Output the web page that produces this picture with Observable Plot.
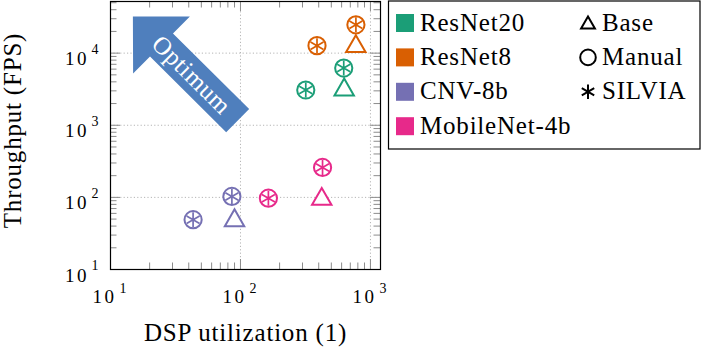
<!DOCTYPE html>
<html>
<head>
<meta charset="utf-8">
<script src="https://cdn.jsdelivr.net/npm/d3@7"></script>
<script src="https://cdn.jsdelivr.net/npm/@observablehq/plot@0.6"></script>
<style>
  html, body { margin: 0; padding: 0; background: #fff; }
  #wrap { position: relative; width: 703px; height: 347px; overflow: hidden; }
  #wrap svg { position: absolute; left: 0; top: 0; }
</style>
</head>
<body>
<div id="wrap"></div>
<script>
// ---------- data ----------
const nets = ["ResNet20", "ResNet8", "CNV-8b", "MobileNet-4b"];
const netColors = ["#1b9e77", "#d95f02", "#7570b3", "#e7298a"];
const methods = ["Base", "Manual", "SILVIA"];

const baseNet = ["ResNet20", "ResNet8", "CNV-8b", "MobileNet-4b"];
const baseDSP = [628, 772, 90, 422];
const baseFPS = [3100, 12370, 47.7, 94.5];

const manualNet = ["ResNet20", "ResNet20", "ResNet8", "ResNet8", "CNV-8b", "CNV-8b", "MobileNet-4b", "MobileNet-4b"];
const manualDSP = [318, 623, 388, 773, 43.2, 85.9, 164, 428];
const manualFPS = [3080, 6210, 12700, 24700, 49, 103, 97.5, 260];

const silviaNet = ["ResNet20", "ResNet20", "ResNet8", "ResNet8", "CNV-8b", "CNV-8b", "MobileNet-4b", "MobileNet-4b"];
const silviaDSP = [318, 623, 388, 773, 43.2, 85.9, 164, 428];
const silviaFPS = [3080, 6210, 12700, 24700, 49, 103, 97.5, 260];

const xMajor = [10, 100, 1000];
const xTickExp = ["1", "2", "3"];
const yMajor = [10, 100, 1000, 10000];
const yTickExp = ["1", "2", "3", "4"];
const xMinor = [20, 30, 40, 50, 60, 70, 80, 90, 200, 300, 400, 500, 600, 700, 800, 900];
const yMinor = [20, 30, 40, 50, 60, 70, 80, 90, 200, 300, 400, 500, 600, 700, 800, 900,
                2000, 3000, 4000, 5000, 6000, 7000, 8000, 9000, 20000, 30000, 40000, 50000];

const xLabel = "DSP utilization (1)";
const yLabel = "Throughput (FPS)";
const arrowText = "Optimum";
const arrowTail = [96, 1143];   // data coords (DSP, FPS)
const arrowTip = [15.0, 31600];

// ---------- build tables ----------
const mk = (n, x, y) => n.map((d, i) => ({net: d, dsp: x[i], fps: y[i]}));
const base = mk(baseNet, baseDSP, baseFPS);
const manual = mk(manualNet, manualDSP, manualFPS);
const silvia = mk(silviaNet, silviaDSP, silviaFPS);

const W = 703, H = 347;
const mL = 110, mR = 323, mT = 1, mB = 78;
const pw = W - mL - mR, ph = H - mT - mB;
const FONT = "'Liberation Serif', 'Times New Roman', serif";

function optimumArrow(index, scales) {
  const tx = scales.x(arrowTail[0]), ty = scales.y(arrowTail[1]);
  const hx = scales.x(arrowTip[0]), hy = scales.y(arrowTip[1]);
  const dx = hx - tx, dy = hy - ty, L = Math.hypot(dx, dy);
  const ux = dx / L, uy = dy / L, nx = -uy, ny = ux;
  const sw = 16.3, hw = 40.3, hl = 40.3;
  const bx = hx - ux * hl, by = hy - uy * hl;
  const pts = [
    [tx + nx * sw, ty + ny * sw], [bx + nx * sw, by + ny * sw], [bx + nx * hw, by + ny * hw],
    [hx, hy],
    [bx - nx * hw, by - ny * hw], [bx - nx * sw, by - ny * sw], [tx - nx * sw, ty - ny * sw]
  ];
  const g = d3.create("svg:g");
  g.append("path").attr("d", "M" + pts.map(p => p.join(",")).join("L") + "Z").attr("fill", "#4f7fbd");
  const cx = tx + ux * 65, cy = ty + uy * 65;
  const ang = Math.atan2(-uy, -ux) * 180 / Math.PI;
  g.append("text")
    .attr("transform", `translate(${cx},${cy}) rotate(${ang})`)
    .attr("text-anchor", "middle").attr("dy", "0.33em")
    .attr("fill", "white").attr("font-size", 25).attr("letter-spacing", 0.6)
    .attr("font-family", FONT).text(arrowText);
  return g.node();
}

const tickStroke = "#8c8c8c";
const gridStyle = {stroke: "#b5b5b5", strokeDasharray: "1.2,2.2", strokeWidth: 1};
const lbl = {textAnchor: "middle", lineAnchor: "middle"};

const plot = Plot.plot({
  width: W, height: H,
  marginLeft: mL, marginRight: mR, marginTop: mT, marginBottom: mB,
  x: {type: "log", domain: [10, 1195], axis: null},
  y: {type: "log", domain: [10, 52000], axis: null},
  color: {domain: nets, range: netColors},
  style: {fontFamily: FONT, background: "white", color: "black"},
  marks: [
    Plot.ruleX(xMajor.filter(d => d > 10), {x: d => d, ...gridStyle}),
    Plot.ruleY(yMajor.filter(d => d > 10), {y: d => d, ...gridStyle}),
    Plot.ruleX(xMinor, {x: d => d, insetTop: ph - 6.5, stroke: tickStroke}),
    Plot.ruleX(xMinor, {x: d => d, insetBottom: ph - 6.5, stroke: tickStroke}),
    Plot.ruleY(yMinor, {y: d => d, insetRight: pw - 6.5, stroke: tickStroke}),
    Plot.ruleY(yMinor, {y: d => d, insetLeft: pw - 6.5, stroke: tickStroke}),
    Plot.ruleX(xMajor, {x: d => d, insetTop: ph - 10, stroke: tickStroke}),
    Plot.ruleX(xMajor, {x: d => d, insetBottom: ph - 10, stroke: tickStroke}),
    Plot.ruleY(yMajor, {y: d => d, insetRight: pw - 10, stroke: tickStroke}),
    Plot.ruleY(yMajor, {y: d => d, insetLeft: pw - 10, stroke: tickStroke}),
    Plot.frame({stroke: "black", strokeWidth: 1.2}),
    optimumArrow,
    Plot.dot(base, {x: "dsp", y: "fps", stroke: "net", symbol: "triangle", r: 7.2, strokeWidth: 2, fill: "white"}),
    Plot.dot(manual, {x: "dsp", y: "fps", stroke: "net", symbol: "circle", r: 8.6, strokeWidth: 2, fill: "white"}),
    Plot.dot(silvia, {x: "dsp", y: "fps", stroke: "net", symbol: "asterisk", r: 7.1, strokeWidth: 1.7}),
    // tick labels
    Plot.text(xMajor, {x: d => d, frameAnchor: "bottom", text: () => "10", dy: 27, dx: -6, fontSize: 19, ...lbl}),
    Plot.text(xMajor, {x: d => d, frameAnchor: "bottom", text: (d, i) => xTickExp[i], dy: 19, dx: 12.5, fontSize: 14, ...lbl}),
    Plot.text(yMajor, {y: d => d, frameAnchor: "left", text: () => "10", dy: 6, dx: -33.5, fontSize: 19, ...lbl}),
    Plot.text(yMajor, {y: d => d, frameAnchor: "left", text: (d, i) => yTickExp[i], dy: -3.7, dx: -15.5, fontSize: 14, ...lbl}),
    // axis titles
    Plot.text([xLabel], {frameAnchor: "bottom", text: d => d, dy: 63, fontSize: 25, ...lbl}),
    Plot.text([yLabel], {frameAnchor: "left", text: d => d, dx: -98, dy: -5, rotate: -90, fontSize: 25, ...lbl})
  ]
});

// letter-spacing tweaks for Libertine-like widths
d3.select(plot).selectAll("text").each(function () {
  const t = this.textContent;
  if (t === "10") this.setAttribute("letter-spacing", "2.4");
  if (t === xLabel || t === yLabel) this.setAttribute("letter-spacing", "0.8");
});

document.getElementById("wrap").appendChild(plot);

// ---------- legend ----------
const lg = d3.select("#wrap").append("svg")
  .attr("width", W).attr("height", H)
  .style("font-family", FONT);
lg.append("rect").attr("x", 388.5).attr("y", 1).attr("width", 311.5).attr("height", 148)
  .attr("fill", "white").attr("stroke", "black").attr("stroke-width", 1.2);
const rowY = [23, 57.4, 91.8, 126.2];
nets.forEach((n, i) => {
  lg.append("rect").attr("x", 396).attr("y", rowY[i] - 9).attr("width", 18).attr("height", 18)
    .attr("fill", netColors[i]);
  lg.append("text").attr("x", 420).attr("y", rowY[i] + 7.5).attr("font-size", 25)
    .attr("letter-spacing", 0.8).text(n);
});
const legSym = [d3.symbolTriangle2, d3.symbolCircle, d3.symbolAsterisk];
const legR = [6.6, 7.8, 6.8];
const legOff = [1.5, 0, 0];
methods.forEach((m, i) => {
  lg.append("path")
    .attr("d", d3.symbol(legSym[i], Math.PI * legR[i] * legR[i])())
    .attr("transform", `translate(588,${rowY[i] + legOff[i]})`)
    .attr("fill", "none").attr("stroke", "black").attr("stroke-width", 2);
  lg.append("text").attr("x", 602).attr("y", rowY[i] + 7.5).attr("font-size", 25)
    .attr("letter-spacing", 0.8).text(m);
});
</script>
</body>
</html>
